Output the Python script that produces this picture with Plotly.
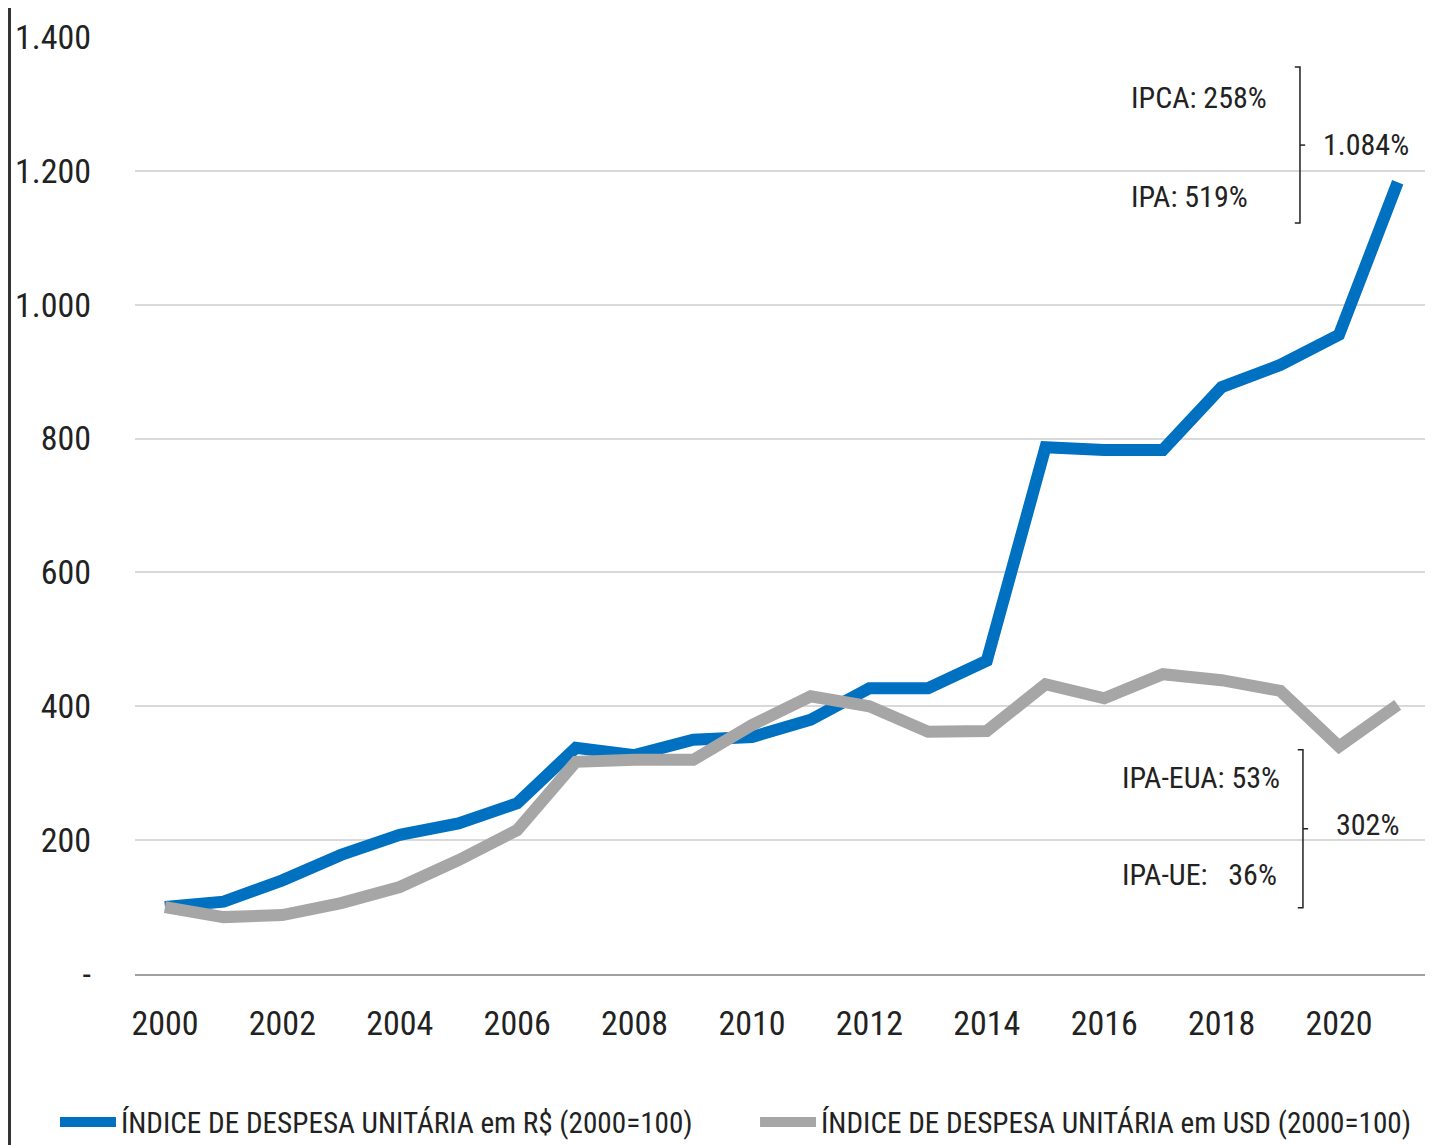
import plotly.graph_objects as go

# data
anos = list(range(2000, 2022))
indice_brl = [100, 108, 140, 178, 208, 225, 255, 338, 327, 350, 354, 380,
              427, 427, 468, 787, 783, 783, 877, 910, 955, 1183]
indice_usd = [100, 85, 88, 106, 130, 170, 215, 317, 320, 320, 372, 415,
              400, 362, 363, 433, 412, 448, 439, 423, 340, 402]

y_ticks = [0, 200, 400, 600, 800, 1000, 1200, 1400]
y_labels = ['-', '200', '400', '600', '800', '1.000', '1.200', '1.400']
x_ticks = list(range(2000, 2021, 2))

nome_brl = 'ÍNDICE DE DESPESA UNITÁRIA em R$ (2000=100)'
nome_usd = 'ÍNDICE DE DESPESA UNITÁRIA em USD (2000=100)'

FONTE = 'Roboto Condensed, Liberation Sans Narrow, sans-serif'
AZUL = '#0070c0'
CINZA = '#a6a6a6'
TXT = '#222222'

fig = go.Figure()
fig.add_scatter(x=anos, y=indice_brl, name=nome_brl, mode='lines',
                line=dict(color=AZUL, width=12), legend='legend')
fig.add_scatter(x=anos, y=indice_usd, name=nome_usd, mode='lines',
                line=dict(color=CINZA, width=12), legend='legend2')

# textos à direita
ann_font = dict(family=FONTE, size=30, color=TXT)
notas = [
    ('IPCA: 258%', 0.7683, 1309, 'left'),
    ('IPA: 519%', 0.7683, 1162, 'left'),
    ('1.084%', 0.9846, 1239, 'right'),
    ('IPA-EUA: 53%', 0.7614, 294, 'left'),
    ('IPA-UE:   36%', 0.7614, 148, 'left'),
    ('302%', 0.9768, 223, 'right'),
]
for txt, xp, yv, anc in notas:
    fig.add_annotation(x=xp, y=yv, xref='paper', yref='y', text=txt.replace(' ', '&nbsp;'),
                       showarrow=False, xanchor=anc, yanchor='middle', font=ann_font,
                       borderpad=0)


# colchetes
def colchete(x, y0, y1):
    ym = (y0 + y1) / 2
    fig.add_shape(type='path', xref='paper', yref='y',
                  path=f'M {x-0.004} {y1} L {x} {y1} L {x} {y0} L {x-0.004} {y0}',
                  line=dict(color=TXT, width=1.5))
    fig.add_shape(type='line', xref='paper', yref='y', x0=x, x1=x + 0.004, y0=ym, y1=ym,
                  line=dict(color=TXT, width=1.5))


colchete(0.8996, 1122, 1355)
colchete(0.9019, 99, 335)

# linha da moldura à esquerda
fig.add_shape(type='line', xref='paper', yref='paper', x0=-0.0969, x1=-0.0969, y0=-0.2, y1=1.05,
              line=dict(color='#333333', width=3))

leg = dict(orientation='h', xanchor='left', y=0.027, yref='container', yanchor='middle',
           font=dict(family=FONTE, size=29.2, color=TXT), itemwidth=56,
           bgcolor='rgba(0,0,0,0)')
fig.update_layout(
    width=1433, height=1145,
    margin=dict(l=127, r=11, t=29, b=179, autoexpand=False),
    plot_bgcolor='white', paper_bgcolor='white',
    font=dict(family=FONTE, size=34, color=TXT),
    showlegend=True,
    legend=dict(leg, x=-0.0618),
    legend2=dict(leg, x=0.4788),
)
fig.update_xaxes(range=[1999.49, 2021.55], tickvals=x_ticks, showgrid=False,
                 showline=True, linecolor='#a0a0a0', linewidth=2, ticks='',
                 ticklabelstandoff=18, zeroline=False)
fig.update_yaxes(range=[0, 1400], tickvals=y_ticks, ticktext=y_labels,
                 showgrid=True, gridcolor='#d9d9d9', gridwidth=2, zeroline=False,
                 ticks='', ticklabelstandoff=43, showline=False)

fig.write_html('out.html')
